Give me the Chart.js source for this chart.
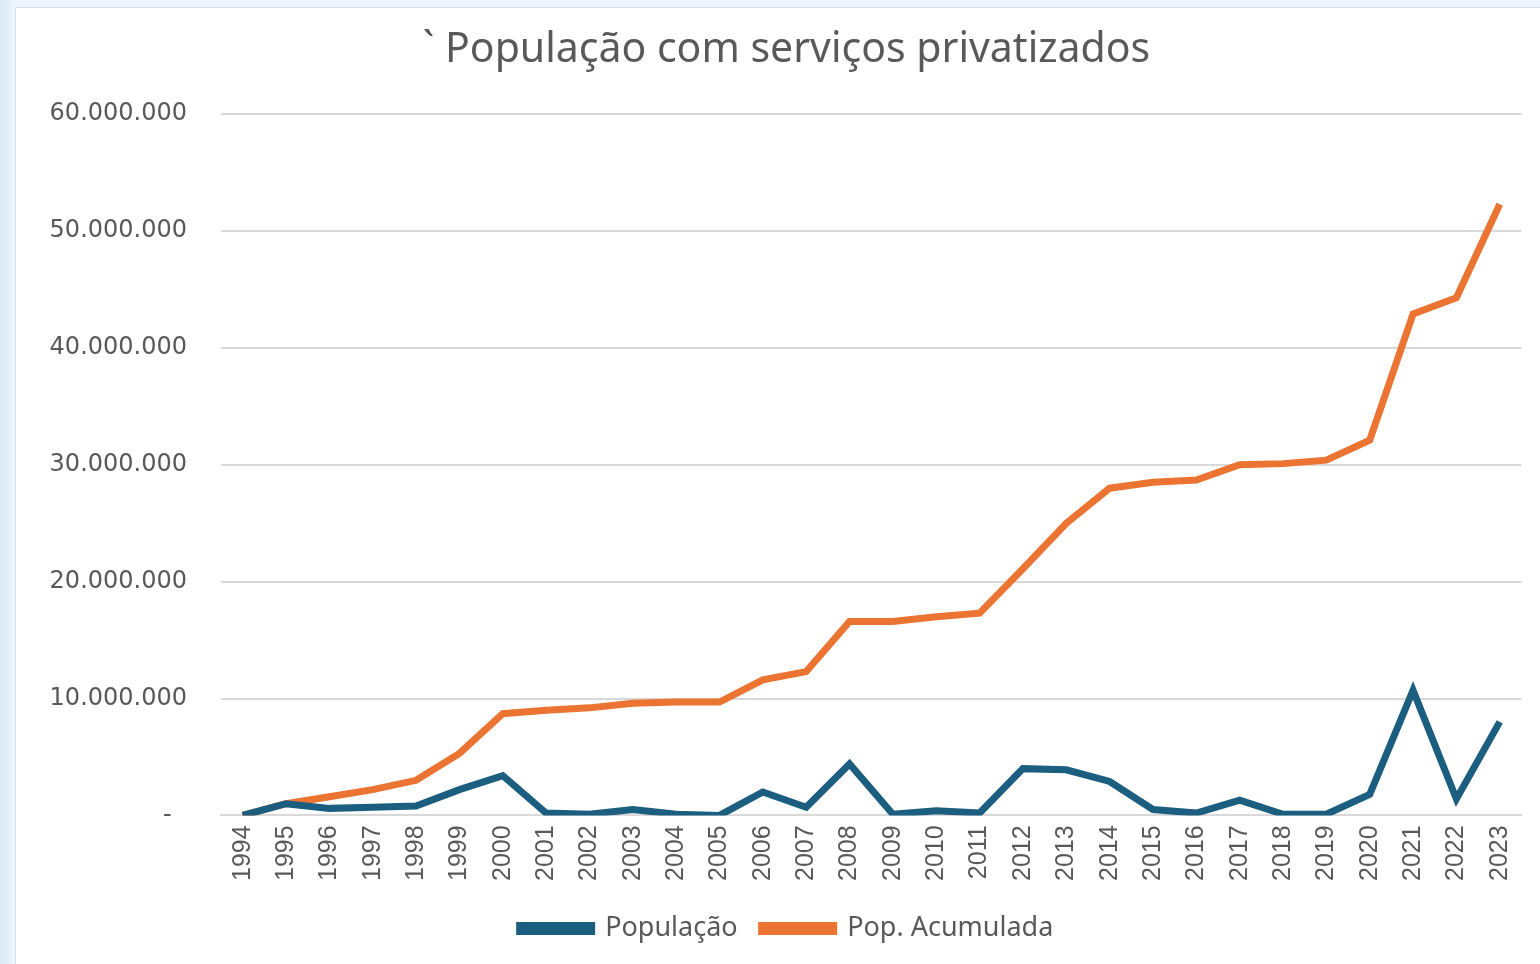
<!DOCTYPE html>
<html lang="pt-br">
<head>
    <meta charset="UTF-8">
    <title>População com serviços privatizados</title>
    <script src="https://cdn.jsdelivr.net/npm/chart.js"></script>
    <style>
        html, body { margin: 0; padding: 0; }
        body {
            width: 1540px; height: 964px; overflow: hidden; position: relative;
            background: linear-gradient(90deg, #dbe9f7 0px, #eef5fc 15px);
        }
        #card {
            position: absolute; left: 15px; top: 7px;
            width: 1525px; height: 957px;
            background: #fff;
            border-top: 1px solid #d6dde4;
            border-left: 1px solid #d6dde4;
        }
    </style>
</head>
<body>
    <div id="card">
        <canvas id="myChart" width="1524" height="956"></canvas>
    </div>

    <script>
        const anos = ['1994', '1995', '1996', '1997', '1998', '1999', '2000', '2001', '2002', '2003',
            '2004', '2005', '2006', '2007', '2008', '2009', '2010', '2011', '2012', '2013',
            '2014', '2015', '2016', '2017', '2018', '2019', '2020', '2021', '2022', '2023'];

        const populacao = [0, 1000000, 600000, 700000, 800000, 2200000, 3400000, 200000, 100000, 500000,
            100000, 0, 2000000, 700000, 4400000, 100000, 400000, 200000, 4000000, 3900000,
            2900000, 500000, 200000, 1300000, 100000, 100000, 1800000, 10700000, 1400000, 8000000];

        const popAcumulada = [0, 1000000, 1600000, 2200000, 3000000, 5300000, 8700000, 9000000, 9200000, 9600000,
            9700000, 9700000, 11600000, 12300000, 16600000, 16600000, 17000000, 17300000, 21100000, 25000000,
            28000000, 28500000, 28700000, 30000000, 30100000, 30400000, 32100000, 42900000, 44300000, 52300000];

        const yTicks = [0, 10000000, 20000000, 30000000, 40000000, 50000000, 60000000];

        const titulo = '` População com serviços privatizados';

        function formatar(v) {
            if (v === 0) return '-  ';
            return String(v).replace(/\B(?=(\d{3})+(?!\d))/g, '.');
        }

        const azul = '#1b5e80';
        const laranja = '#ec7432';

        const ctx = document.getElementById('myChart').getContext('2d');
        const myChart = new Chart(ctx, {
            type: 'line',
            data: {
                labels: anos,
                datasets: [{
                    label: 'População',
                    data: populacao,
                    borderColor: azul,
                    backgroundColor: azul,
                    borderWidth: 7,
                    pointRadius: 0,
                    tension: 0
                }, {
                    label: 'Pop. Acumulada',
                    data: popAcumulada,
                    borderColor: laranja,
                    backgroundColor: laranja,
                    borderWidth: 7,
                    pointRadius: 0,
                    tension: 0
                }]
            },
            options: {
                responsive: false,
                animation: false,
                layout: {
                    padding: { left: 32, right: 15, top: 10, bottom: 12 }
                },
                plugins: {
                    title: {
                        display: true,
                        text: titulo,
                        color: '#595959',
                        font: { family: 'Noto Sans', size: 41, weight: 'normal' },
                        padding: { top: 8, bottom: 39 }
                    },
                    legend: {
                        position: 'bottom',
                        labels: {
                            color: '#595959',
                            font: { family: 'Noto Sans', size: 27 },
                            boxWidth: 72,
                            boxHeight: 6,
                            padding: 24
                        }
                    },
                    tooltip: { enabled: false }
                },
                scales: {
                    x: {
                        offset: true,
                        grid: { display: false, drawTicks: false },
                        border: { display: true, color: '#d9d9d9', width: 2 },
                        ticks: {
                            color: '#595959',
                            font: { family: 'Liberation Sans', size: 25 },
                            maxRotation: 90,
                            minRotation: 90,
                            autoSkip: false,
                            padding: 10
                        }
                    },
                    y: {
                        min: 0,
                        max: 60000000,
                        afterBuildTicks: axis => {
                            axis.ticks = yTicks.map(v => ({ value: v }));
                        },
                        afterFit: axis => {
                            axis.width = 173;
                        },
                        grid: { color: '#d9d9d9', lineWidth: 2, drawTicks: false },
                        border: { display: false },
                        ticks: {
                            color: '#595959',
                            font: { family: 'DejaVu Sans', size: 24 },
                            padding: 34,
                            callback: v => formatar(v)
                        }
                    }
                }
            }
        });
    </script>
</body>
</html>
